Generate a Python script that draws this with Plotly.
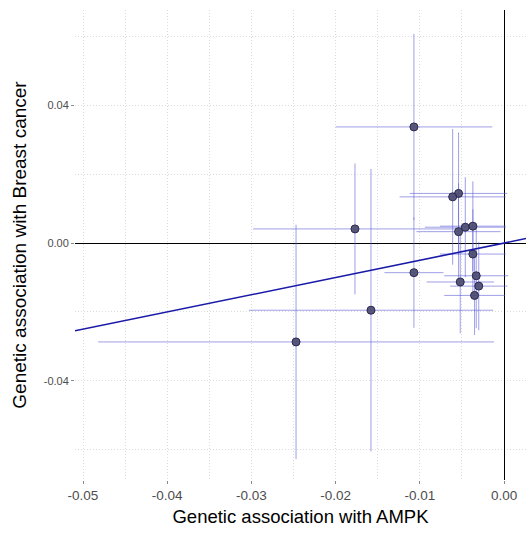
import plotly.graph_objects as go

# SNP-level associations
beta_exposure = [-0.0107, -0.0107, -0.0177, -0.0158, -0.0247,
                 -0.0054, -0.0046, -0.0037, -0.0037, -0.0033,
                 -0.0052, -0.0030, -0.0035, -0.0054, -0.0061]
beta_outcome = [0.0337, -0.0086, 0.0041, -0.0195, -0.0287,
                0.0033, 0.0046, 0.0049, -0.0032, -0.0095,
                -0.0113, -0.0125, -0.0152, 0.0144, 0.0134]
se_exposure = [0.0093, 0.0035, 0.0121, 0.0145, 0.0235,
               0.0050, 0.0048, 0.0039, 0.0039, 0.0038,
               0.0040, 0.0034, 0.0036, 0.0058, 0.0063]
se_outcome = [0.027, 0.016, 0.019, 0.041, 0.034,
              0.014, 0.0145, 0.013, 0.013, 0.0152,
              0.0149, 0.0128, 0.0115, 0.0177, 0.0197]

ivw_slope = 0.5

x_range = [-0.05095, 0.00261]
y_range = [-0.06877, 0.06763]
x_ticks = [-0.05, -0.04, -0.03, -0.02, -0.01, 0.00]
y_ticks = [-0.04, 0.00, 0.04]

x_title = "Genetic association with AMPK"
y_title = "Genetic association with Breast cancer"

fig = go.Figure()

fig.add_trace(go.Scatter(
    x=beta_exposure, y=beta_outcome, mode="markers",
    marker=dict(size=8, color="rgba(75,75,112,0.92)",
                line=dict(color="rgba(40,40,80,1)", width=1)),
    error_x=dict(type="data", array=se_exposure, visible=True,
                 color="rgba(95,95,215,0.6)", thickness=1, width=0),
    error_y=dict(type="data", array=se_outcome, visible=True,
                 color="rgba(95,95,215,0.6)", thickness=1, width=0),
    showlegend=False, hoverinfo="x+y",
))

fig.add_trace(go.Scatter(
    x=x_range, y=[ivw_slope * v for v in x_range], mode="lines",
    line=dict(color="#1a1aa8", width=1.6), showlegend=False,
))

grid_col = "#dcdcdc"
grid_dash = "1px,2px"
font_fam = "Liberation Sans, Arial, sans-serif"

fig.update_layout(
    width=526, height=533,
    margin=dict(l=75, r=0, t=10, b=53),
    plot_bgcolor="white", paper_bgcolor="white",
    font=dict(family=font_fam, color="#4d4d4d"),
    xaxis=dict(
        range=x_range, tickvals=x_ticks,
        ticktext=[f"{v:.2f}" for v in x_ticks],
        showgrid=True, gridcolor=grid_col, griddash=grid_dash, gridwidth=1,
        minor=dict(dtick=0.005, tick0=0, showgrid=True, gridcolor=grid_col,
                   griddash=grid_dash, gridwidth=1),
        zeroline=True, zerolinecolor="black", zerolinewidth=1.2,
        ticks="outside", ticklen=3, tickcolor="#8a8a8a",
        tickfont=dict(size=13.5, color="#4d4d4d"),
        showline=False, automargin=False,
        title=dict(text=x_title, font=dict(size=18.5, color="black"), standoff=7),
    ),
    yaxis=dict(
        range=y_range, tickvals=y_ticks,
        ticktext=[f"{v:.2f}" for v in y_ticks],
        showgrid=True, gridcolor=grid_col, griddash=grid_dash, gridwidth=1,
        minor=dict(dtick=0.02, tick0=0, showgrid=True, gridcolor=grid_col,
                   griddash=grid_dash, gridwidth=1),
        zeroline=True, zerolinecolor="black", zerolinewidth=1.2,
        ticks="outside", ticklen=3, tickcolor="#8a8a8a",
        tickfont=dict(size=11, color="#4d4d4d"),
        showline=False, automargin=False,
        title=dict(text=y_title, font=dict(size=19, color="black"), standoff=12),
    ),
)

fig.write_html("out.html", config={"displayModeBar": False},
               post_script="document.body.style.margin='0';document.body.style.overflow='hidden';")
